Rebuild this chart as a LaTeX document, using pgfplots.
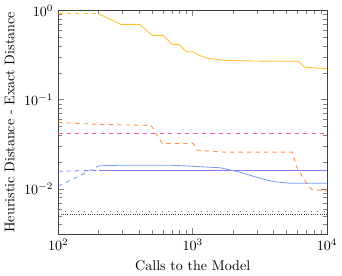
\documentclass[border=0pt]{standalone}
\usepackage{pgfplots}
\pgfplotsset{compat=1.18}
\definecolor{cyel}{HTML}{FFC02A}
\definecolor{cora}{HTML}{FF8C40}
\definecolor{rosepink}{RGB}{240,90,190}
\definecolor{cpur}{HTML}{8C7AF2}
\definecolor{cblue}{HTML}{7A9CF2}
\begin{document}
\begin{tikzpicture}
\begin{axis}[
  scale only axis,
  width=191pt, height=159pt,
  xmode=log, ymode=log,
  xmin=100, xmax=10000,
  ymin=0.00312, ymax=1,
  xlabel={Calls to the Model},
  ylabel={Heuristic Distance - Exact Distance},
  axis line style={black!75},
  every tick/.style={black!50},
  no markers,
  every axis plot/.append style={line width=0.6pt},
]
% yellow
\addplot[cyel, dashed] coordinates {(100,0.918) (200,0.918)};
\addplot[cyel] coordinates {(200,0.918) (291,0.698) (403,0.698) (500,0.526) (603,0.526) (703,0.417) (789,0.417) (897,0.345) (1006,0.345) (1110,0.316) (1280,0.291) (1700,0.276) (3000,0.271) (6100,0.269) (6840,0.231) (10000,0.223)};
% orange dashed
\addplot[cora, dashed] coordinates {(100,0.0556) (200,0.053) (490,0.0515) (593,0.0324) (1006,0.0324) (1080,0.0273) (1700,0.0259) (5500,0.0259) (5930,0.0177) (6800,0.0125) (7650,0.0099) (10000,0.0095)};
% pink dashed
\addplot[color=rosepink, dashed, line width=0.8pt] coordinates {(100,0.0415) (10000,0.0415)};
% purple
\addplot[cpur, dashed] coordinates {(100,0.0158) (200,0.0162)};
\addplot[cpur] coordinates {(200,0.0162) (10000,0.0162)};
% blue
\addplot[cblue, dashed] coordinates {(100,0.0108) (150,0.0145) (200,0.0182)};
\addplot[cblue] coordinates {(200,0.0182) (300,0.0185) (684,0.0185) (1600,0.0173) (2190,0.0156) (3170,0.0132) (3980,0.0121) (5300,0.0116) (10000,0.0116)};
% black dotted
\addplot[black!55, loosely dotted] coordinates {(100,0.00568) (10000,0.00568)};
\addplot[black!75, densely dotted] coordinates {(100,0.00522) (10000,0.00522)};
\end{axis}
\end{tikzpicture}
\end{document}
